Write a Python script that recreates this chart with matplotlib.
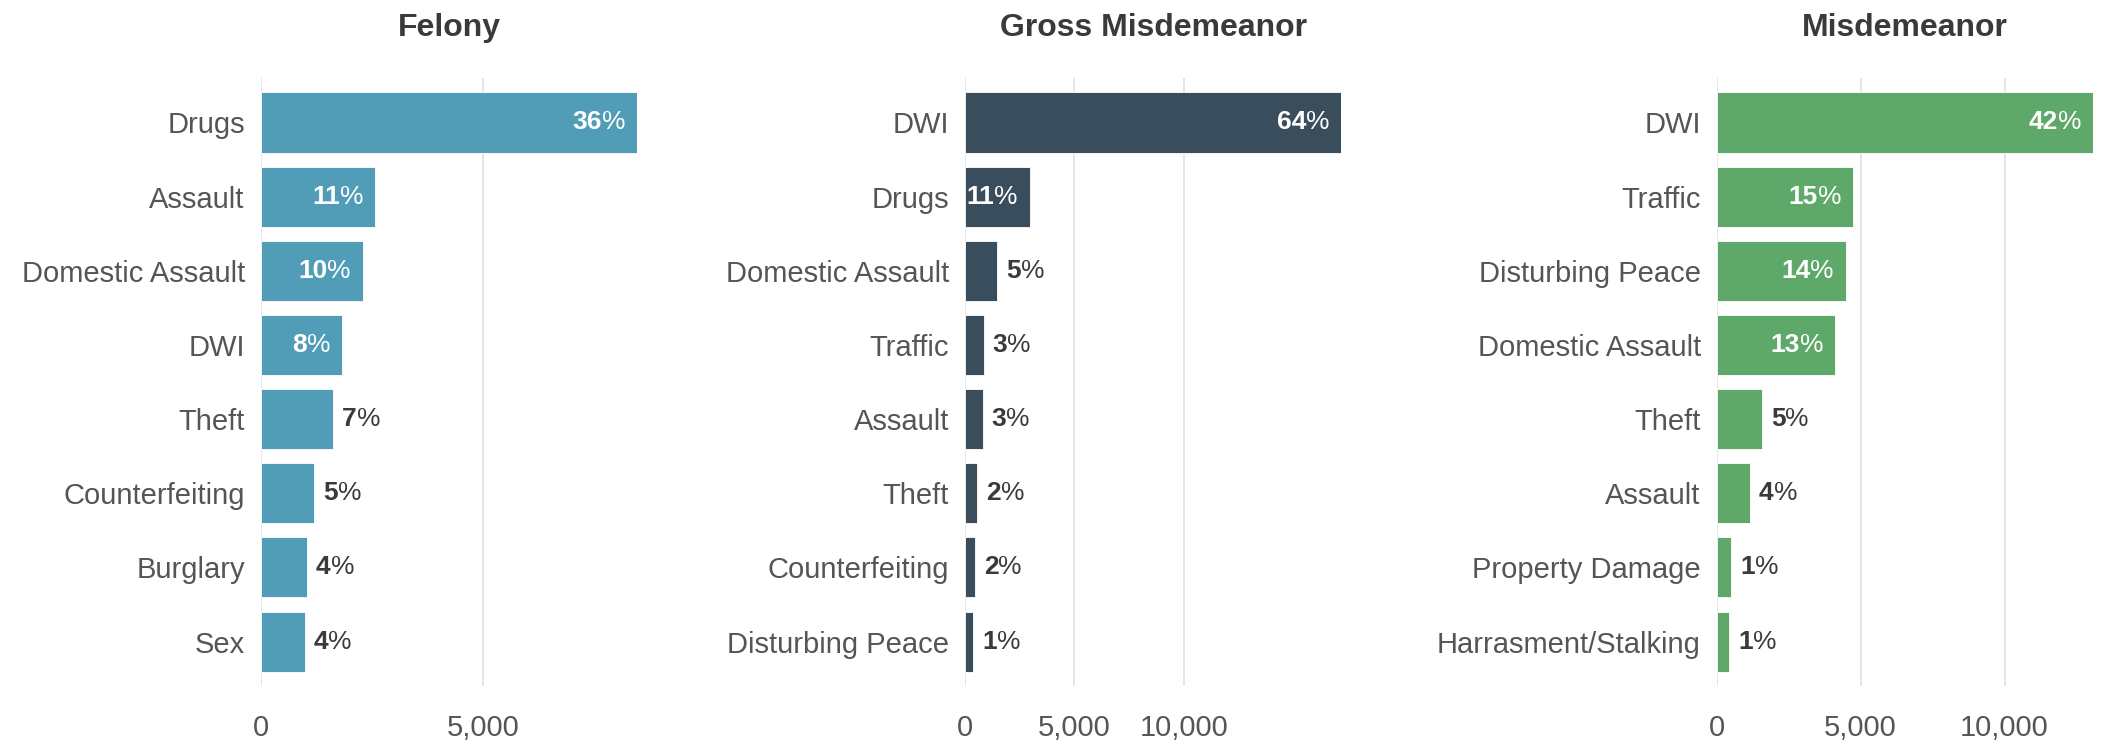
import numpy as np
import matplotlib.pyplot as plt


# ==========================
# Data
# ==========================

felony_labels = ["Drugs", "Assault", "Domestic Assault", "DWI", "Theft",
                 "Counterfeiting", "Burglary", "Sex"]
felony_counts = [8460, 2570, 2295, 1825, 1625, 1200, 1040, 990]
felony_pct = [36, 11, 10, 8, 7, 5, 4, 4]

gross_labels = ["DWI", "Drugs", "Domestic Assault", "Traffic", "Assault",
                "Theft", "Counterfeiting", "Disturbing Peace"]
gross_counts = [17200, 2960, 1465, 855, 810, 550, 445, 380]
gross_pct = [64, 11, 5, 3, 3, 2, 2, 1]

misd_labels = ["DWI", "Traffic", "Disturbing Peace", "Domestic Assault",
               "Theft", "Assault", "Property Damage", "Harrasment/Stalking"]
misd_counts = [13080, 4735, 4480, 4120, 1565, 1155, 505, 440]
misd_pct = [42, 15, 14, 13, 5, 4, 1, 1]

panel_titles = ["Felony", "Gross Misdemeanor", "Misdemeanor"]
panel_ticks = [[0, 5000], [0, 5000, 10000], [0, 5000, 10000]]


# ==========================
# Style
# ==========================

plt.rcParams["font.family"] = "Liberation Sans"

colors = ["#519db8", "#3a4d5d", "#5ea96a"]
label_color = "#555555"
value_color = "#3a3a3a"
grid_color = "#e6e6e6"

# percentages at or above this value are written inside the bar
inside_min_pct = 8

panels = [
    (felony_labels, felony_counts, felony_pct),
    (gross_labels, gross_counts, gross_pct),
    (misd_labels, misd_counts, misd_pct),
]

axes_left = [0.1241, 0.4593, 0.8171]
axes_width = 0.1792
axes_bottom = 0.0853
axes_height = 0.8107


# ==========================
# Plot
# ==========================

fig = plt.figure(figsize=(21.01, 7.5), dpi=100)

for i, (labels, counts, pct) in enumerate(panels):
    ax = fig.add_axes([axes_left[i], axes_bottom, axes_width, axes_height])

    y = np.arange(len(labels))
    ax.barh(y, counts, height=0.81, color=colors[i],
            edgecolor="white", linewidth=0.6, zorder=2)

    ax.set_xlim(0, max(counts))
    ax.set_ylim(len(labels) - 0.4, -0.6)

    ax.set_yticks(y)
    ax.set_yticklabels(labels, fontsize=21, color=label_color)
    ax.set_xticks(panel_ticks[i])
    ax.set_xticklabels([f"{t:,}" for t in panel_ticks[i]],
                       fontsize=21, color=label_color)
    ax.tick_params(axis="y", length=0, pad=11.5)
    ax.tick_params(axis="x", length=0, pad=20)

    ax.grid(axis="x", color=grid_color, linewidth=1.4, zorder=0)
    ax.set_axisbelow(True)
    for side in ax.spines.values():
        side.set_visible(False)

    ax.text(0.5, 1 + 50 / 608, panel_titles[i], transform=ax.transAxes,
            ha="center", va="center", fontsize=23, fontweight="bold",
            color="#3a3a3a")

    # value labels: bold number, regular percent sign
    for yy, value, p in zip(y, counts, pct):
        if p >= inside_min_pct:
            sign = ax.annotate("%", xy=(value, yy), xytext=(-8.6, 0),
                               textcoords="offset points", ha="right",
                               va="center", fontsize=19, color="white")
            ax.annotate(str(p), xy=(0, 0), xycoords=sign, ha="right",
                        va="bottom", fontsize=19, fontweight="bold",
                        color="white")
        else:
            num = ax.annotate(str(p), xy=(value, yy), xytext=(6.5, 0),
                              textcoords="offset points", ha="left",
                              va="center", fontsize=19, fontweight="bold",
                              color=value_color)
            ax.annotate("%", xy=(1, 0), xycoords=num, ha="left",
                        va="bottom", fontsize=19, color=value_color)

fig.savefig("out.png", dpi=100, facecolor="white")
